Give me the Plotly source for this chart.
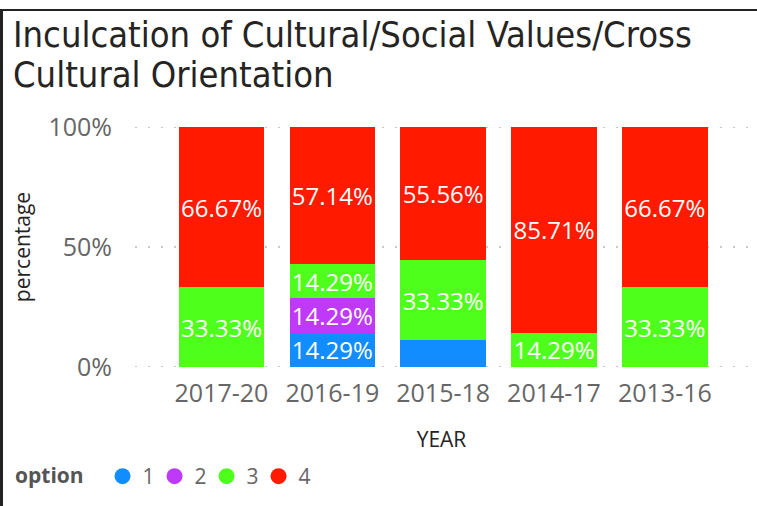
import plotly.graph_objects as go

years = ["2017-20", "2016-19", "2015-18", "2014-17", "2013-16"]
options = ["1", "2", "3", "4"]
opt1 = [0, 14.29, 11.11, 0, 0]
opt2 = [0, 14.29, 0, 0, 0]
opt3 = [33.33, 14.29, 33.33, 14.29, 33.33]
opt4 = [66.67, 57.14, 55.56, 85.71, 66.67]
series = [opt1, opt2, opt3, opt4]
colors = ["#118DFF", "#BE3AF8", "#4FFF1C", "#FF1A00"]
ytick_vals = [0, 50, 100]
ytick_text = ["0%", "50%", "100%"]
title_lines = ["Inculcation of Cultural/Social Values/Cross", "Cultural Orientation"]

W, H = 757, 506
L, R, T, B = 135, 9, 127, 139
pw = W - L - R
ph = H - T - B

def px_x(p):
    return (p - L) / pw

def px_y(p):
    return 1 - (p - T) / ph

fig = go.Figure()
for name, vals, col in zip(options, series, colors):
    labels = [f"{v:.2f}%" if v >= 12 else "" for v in vals]
    fig.add_trace(go.Bar(
        x=years, y=vals, name=name, marker=dict(color=col, line=dict(width=0)),
        text=labels, textposition="inside", insidetextanchor="middle",
        textangle=0, textfont=dict(color="white", size=24, family="Open Sans"),
        showlegend=False, hoverinfo="skip",
    ))
for name, col in zip(options, colors):
    fig.add_trace(go.Scatter(
        x=[None], y=[None], mode="markers", name=name,
        marker=dict(color=col, size=20, symbol="circle"),
        showlegend=True,
    ))

grid_dash = "2px,11px"
shapes = []
for v in ytick_vals:
    shapes.append(dict(type="line", xref="paper", yref="y", x0=0, x1=1, y0=v, y1=v,
                       layer="below", line=dict(color="#C8C8C8", width=2, dash=grid_dash)))
shapes += [
    dict(type="rect", xref="paper", yref="paper",
         x0=px_x(0), x1=px_x(W), y0=px_y(9), y1=px_y(11),
         fillcolor="#222222", line=dict(width=0), layer="above"),
    dict(type="rect", xref="paper", yref="paper",
         x0=px_x(0), x1=px_x(3), y0=px_y(9), y1=px_y(H),
         fillcolor="#222222", line=dict(width=0), layer="above"),
]

title_font = dict(family="Liberation Sans Narrow, DejaVu Sans Condensed, Roboto", size=36, color="#252423")
annotations = [
    dict(text=title_lines[0], xref="paper", yref="paper", x=px_x(11), y=px_y(11.5),
         xanchor="left", yanchor="top", showarrow=False, font=title_font),
    dict(text=title_lines[1], xref="paper", yref="paper", x=px_x(11), y=px_y(51.5),
         xanchor="left", yanchor="top", showarrow=False, font=title_font),
]

fig.update_layout(
    width=W, height=H,
    margin=dict(l=L, r=R, t=T, b=B, pad=0, autoexpand=False),
    barmode="stack", bargap=0.23,
    paper_bgcolor="white", plot_bgcolor="white",
    font=dict(family="Open Sans", color="#666666"),
    uniformtext=dict(minsize=24, mode="show"),
    xaxis=dict(
        type="category", categoryorder="array", categoryarray=years,
        range=[-0.78, 4.75], showgrid=False, zeroline=False, showline=False,
        automargin=False,
        tickfont=dict(size=25, color="#666666"), ticklabelstandoff=9,
        title=dict(text="YEAR", font=dict(size=21, color="#252423"), standoff=24),
    ),
    yaxis=dict(
        range=[0, 100], tickvals=ytick_vals, ticktext=ytick_text,
        showgrid=False, zeroline=False, showline=False, automargin=False,
        tickfont=dict(size=25, color="#666666"), ticklabelstandoff=22,
        title=dict(text="percentage", font=dict(size=21, color="#252423"), standoff=12),
    ),
    legend=dict(
        orientation="h", xref="container", yref="container",
        x=13 / W, xanchor="left", y=1 - 456 / H, yanchor="top",
        title=dict(text="<b>option</b>&nbsp;&nbsp;", font=dict(size=21, color="#555555")),
        font=dict(size=21, color="#666666"),
        traceorder="normal",
        itemwidth=30, entrywidthmode="pixels", entrywidth=7,
        bgcolor="rgba(0,0,0,0)",
    ),
    annotations=annotations,
    shapes=shapes,
)
fig.write_html("out.html", config={"displayModeBar": False},
               post_script="document.body.style.margin='0';")
